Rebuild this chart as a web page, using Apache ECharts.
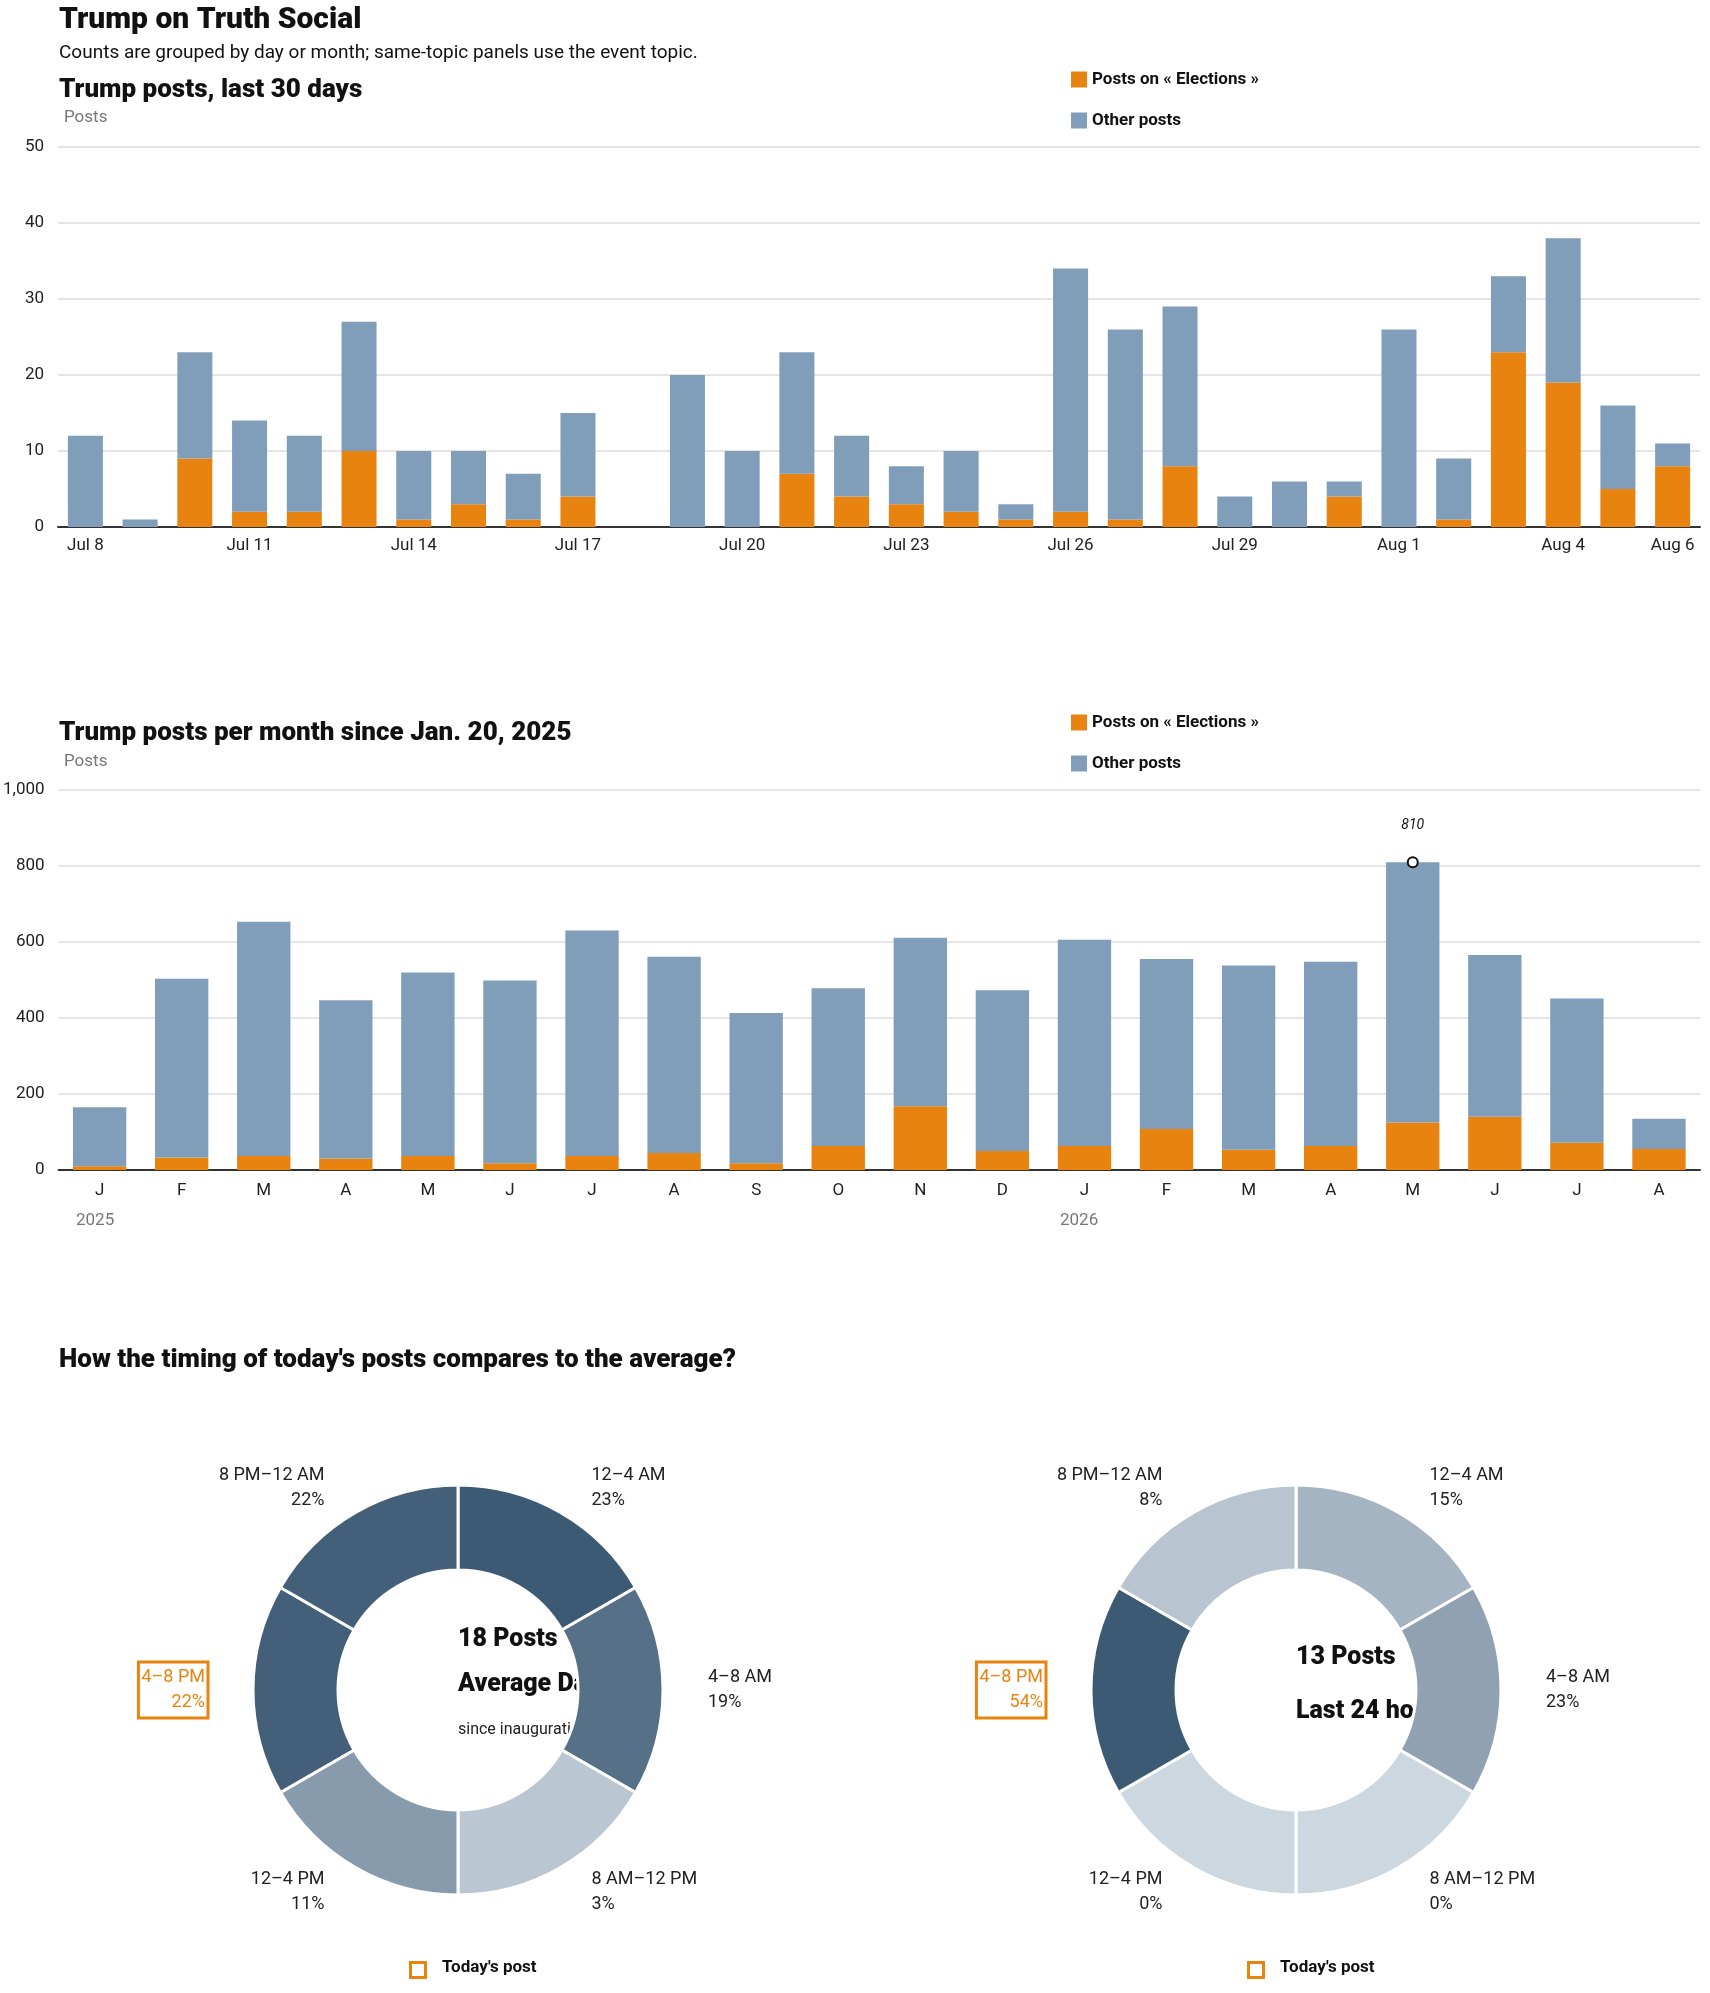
<!DOCTYPE html>
<html lang="en">
<head>
    <meta charset="UTF-8">
    <title>Trump on Truth Social</title>
    <script src="https://cdn.jsdelivr.net/npm/echarts@6/dist/echarts.min.js"></script>
    <style>
        body { margin: 0; background: #fff; }
    </style>
</head>
<body>
<div id="main" style="width:1710px;height:1993px"></div>
<script>
    // ---- last 30 days
    var days = ['Jul 8','Jul 9','Jul 10','Jul 11','Jul 12','Jul 13','Jul 14','Jul 15','Jul 16','Jul 17',
        'Jul 18','Jul 19','Jul 20','Jul 21','Jul 22','Jul 23','Jul 24','Jul 25','Jul 26','Jul 27',
        'Jul 28','Jul 29','Jul 30','Jul 31','Aug 1','Aug 2','Aug 3','Aug 4','Aug 5','Aug 6'];
    var dayElections = [0,0,9,2,2,10,1,3,1,4, 0,0,0,7,4,3,2,1,2,1, 8,0,0,4,0,1,23,19,5,8];
    var dayOther     = [12,1,14,12,10,17,9,7,6,11, 0,20,10,16,8,5,8,2,32,25, 21,4,6,2,26,8,10,19,11,3];

    // ---- per month since inauguration
    var months = ['J','F','M','A','M','J','J','A','S','O','N','D','J','F','M','A','M','J','J','A'];
    var monthElections = [10,33,37,30,37,18,37,45,18,63,168,50,63,108,53,63,125,140,72,55];
    var monthOther     = [155,470,616,417,483,481,593,516,395,415,443,423,543,447,485,485,685,426,379,80];

    // ---- timing
    var slots = ['12–4 AM','4–8 AM','8 AM–12 PM','12–4 PM','4–8 PM','8 PM–12 AM'];
    var avgPct = [23,19,3,11,22,22];
    var todayPct = [15,23,0,0,54,8];
    var highlightSlot = '4–8 PM';

    var ORANGE = '#e8830f', BLUE = '#809eb9';
    var FONT = 'Roboto, "Noto Sans", sans-serif';

    function shade(v, max) {
        var t = max ? v / max : 0;
        var a = [205,215,224], b = [61,90,117];
        var c = a.map(function (x, i) { return Math.round(x + (b[i] - x) * t); });
        return 'rgb(' + c.join(',') + ')';
    }

    function pieData(pcts) {
        var max = Math.max.apply(null, pcts);
        return slots.map(function (s, i) {
            var d = {name: s, value: 1, pct: pcts[i], itemStyle: {color: shade(pcts[i], max)}};
            if (s === highlightSlot) {
                d.label = {color: ORANGE, borderColor: ORANGE, borderWidth: 3, padding: [4, 3, 2, 3]};
            }
            return d;
        });
    }

    function pieSeries(pcts, cx) {
        return {
            type: 'pie',
            center: [cx, 1690],
            radius: [120, 205],
            startAngle: 90,
            clockwise: true,
            silent: true,
            itemStyle: {borderColor: '#fff', borderWidth: 3},
            label: {
                show: true,
                position: 'outside',
                fontFamily: FONT,
                fontSize: 18,
                lineHeight: 25,
                color: '#222',
                formatter: function (p) { return p.name + '\n' + p.data.pct + '%'; }
            },
            labelLine: {show: false, length: 28, length2: 12},
            data: pieData(pcts)
        };
    }

    var axisText = {color: '#222', fontFamily: FONT, fontSize: 17};
    var legendStyle = {
        orient: 'vertical', left: 1066, itemWidth: 16, itemHeight: 16, itemGap: 24,
        icon: 'rect',
        textStyle: {fontFamily: FONT, fontSize: 17, fontWeight: 'bold', color: '#111'},
        data: ['Posts on « Elections »', 'Other posts']
    };

    var option = {
        animation: false,
        color: [ORANGE, BLUE],
        title: [
            {text: 'Trump on Truth Social', left: 54, top: 0,
                textStyle: {fontFamily: FONT, fontSize: 30, fontWeight: 900, color: '#111'}},
            {text: 'Counts are grouped by day or month; same-topic panels use the event topic.', left: 54, top: 39,
                textStyle: {fontFamily: FONT, fontSize: 19, fontWeight: 'normal', color: '#111'}},
            {text: 'Trump posts, last 30 days', left: 54, top: 72,
                textStyle: {fontFamily: FONT, fontSize: 26, fontWeight: 900, color: '#111'}},
            {text: 'Posts', left: 59, top: 104, textStyle: {fontFamily: FONT, fontSize: 17, fontWeight: 'normal', color: '#777'}},
            {text: 'Trump posts per month since Jan. 20, 2025', left: 54, top: 715,
                textStyle: {fontFamily: FONT, fontSize: 26, fontWeight: 900, color: '#111'}},
            {text: 'Posts', left: 59, top: 748, textStyle: {fontFamily: FONT, fontSize: 17, fontWeight: 'normal', color: '#777'}},
            {text: "How the timing of today's posts compares to the average?", left: 54, top: 1342,
                textStyle: {fontFamily: FONT, fontSize: 26, fontWeight: 900, color: '#111'}}
        ],
        legend: [
            Object.assign({top: 66}, legendStyle),
            Object.assign({top: 709}, legendStyle)
        ],
        grid: [
            {left: 58, right: 10, top: 147, height: 380},
            {left: 58, right: 10, top: 790, height: 380}
        ],
        xAxis: [
            {
                type: 'category', gridIndex: 0, data: days,
                axisLine: {lineStyle: {color: '#333', width: 2}},
                axisTick: {show: false},
                axisLabel: Object.assign({
                    margin: 10,
                    interval: function (i) { return i % 3 === 0 || i === days.length - 1; }
                }, axisText)
            },
            {
                type: 'category', gridIndex: 1, data: months,
                axisLine: {lineStyle: {color: '#333', width: 2}},
                axisTick: {show: false},
                axisLabel: Object.assign({margin: 12, interval: 0}, axisText)
            }
        ],
        yAxis: [
            {
                type: 'value', gridIndex: 0, min: 0, max: 50, interval: 10,
                splitLine: {lineStyle: {color: '#ddd', width: 1.5}},
                axisLabel: Object.assign({margin: 14}, axisText)
            },
            {
                type: 'value', gridIndex: 1, min: 0, max: 1000, interval: 200,
                splitLine: {lineStyle: {color: '#ddd', width: 1.5}},
                axisLabel: Object.assign({margin: 14}, axisText)
            }
        ],
        graphic: [
            {type: 'text', left: 76, top: 1212, style: {text: '2025', fill: '#777', font: '17px ' + FONT}},
            {type: 'text', left: 1060, top: 1212, style: {text: '2026', fill: '#777', font: '17px ' + FONT}},
            {type: 'text', left: 458, top: 1627, style: {text: '18 Posts', fill: '#111', font: '900 25px ' + FONT, textAlign: 'center'}},
            {type: 'text', left: 458, top: 1672, style: {text: 'Average Day', fill: '#111', font: '900 25px ' + FONT, textAlign: 'center'}},
            {type: 'text', left: 458, top: 1722, style: {text: 'since inauguration', fill: '#222', font: '16px ' + FONT, textAlign: 'center'}},
            {type: 'text', left: 1296, top: 1645, style: {text: '13 Posts', fill: '#111', font: '900 25px ' + FONT, textAlign: 'center'}},
            {type: 'text', left: 1296, top: 1699, style: {text: 'Last 24 hours', fill: '#111', font: '900 25px ' + FONT, textAlign: 'center'}},
            {type: 'rect', left: 409, top: 1961, shape: {width: 15, height: 15}, style: {fill: '#fff', stroke: ORANGE, lineWidth: 3}},
            {type: 'text', left: 442, top: 1959, style: {text: "Today's post", fill: '#111', font: 'bold 17px ' + FONT}},
            {type: 'rect', left: 1247, top: 1961, shape: {width: 15, height: 15}, style: {fill: '#fff', stroke: ORANGE, lineWidth: 3}},
            {type: 'text', left: 1280, top: 1959, style: {text: "Today's post", fill: '#111', font: 'bold 17px ' + FONT}}
        ],
        series: [
            {name: 'Posts on « Elections »', type: 'bar', stack: 'd', xAxisIndex: 0, yAxisIndex: 0,
                barWidth: '64%', data: dayElections},
            {name: 'Other posts', type: 'bar', stack: 'd', xAxisIndex: 0, yAxisIndex: 0,
                barWidth: '64%', data: dayOther},
            {name: 'Posts on « Elections »', type: 'bar', stack: 'm', xAxisIndex: 1, yAxisIndex: 1,
                barWidth: '65%', data: monthElections},
            {name: 'Other posts', type: 'bar', stack: 'm', xAxisIndex: 1, yAxisIndex: 1,
                barWidth: '65%', data: monthOther,
                markPoint: {
                    symbol: 'circle', symbolSize: 10,
                    itemStyle: {color: '#fff', borderColor: '#111', borderWidth: 2},
                    label: {show: true, position: 'top', distance: 24, color: '#111',
                        fontFamily: FONT, fontSize: 14, fontStyle: 'italic'},
                    data: (function () {
                        var best = 0;
                        for (var i = 0; i < months.length; i++) {
                            if (monthElections[i] + monthOther[i] > monthElections[best] + monthOther[best]) best = i;
                        }
                        var tot = monthElections[best] + monthOther[best];
                        return [{coord: [best, tot], value: tot}];
                    })()
                }},
            pieSeries(avgPct, 458),
            pieSeries(todayPct, 1296)
        ]
    };

    var myChart = echarts.init(document.getElementById('main'));
    myChart.setOption(option);
</script>
</body>
</html>
